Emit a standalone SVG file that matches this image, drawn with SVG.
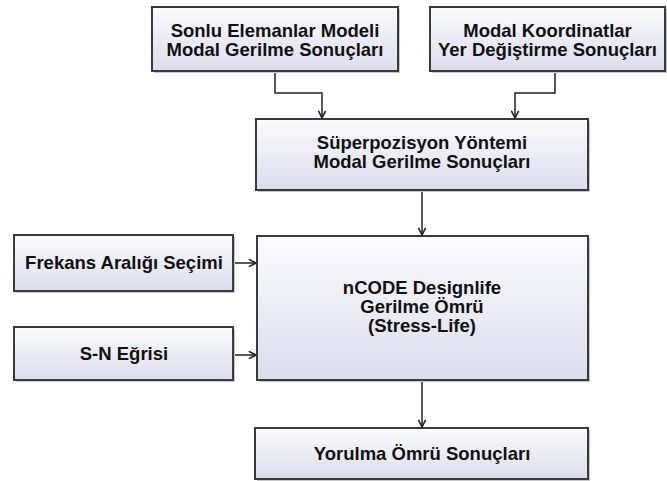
<svg xmlns="http://www.w3.org/2000/svg" width="667" height="481" viewBox="0 0 667 481">
  <style>
    .box { fill: url(#boxFill); stroke: #3a3a3a; stroke-width: 2; }
    .shadow { fill: #c8c8c8; }
    .label { font-family: "Liberation Sans", Arial, sans-serif; font-weight: bold; font-size: 18.5px; fill: #111; text-anchor: middle; }
    .wire { fill: none; stroke: #222; stroke-width: 1.5; marker-end: url(#arrow); }
  </style>
  <defs>
    <linearGradient id="boxFill" x1="0" y1="0" x2="0" y2="1">
      <stop offset="0" stop-color="#fbfbfd"/>
      <stop offset="1" stop-color="#dcdcee"/>
    </linearGradient>
    <marker id="arrow" viewBox="0 0 10 10" refX="9" refY="5" markerWidth="9" markerHeight="9" markerUnits="userSpaceOnUse" orient="auto">
      <path d="M1,1 L9,5 L1,9" fill="none" stroke="#222" stroke-width="1.8"/>
    </marker>
  </defs>
  <rect width="667" height="481" fill="#ffffff"/>

  <g id="connectors">
    <path class="wire" d="M275,71 V93 H322 V118"/>
    <path class="wire" d="M555,71 V93 H515 V118"/>
    <path class="wire" d="M422,190 V235"/>
    <path class="wire" d="M235,263 H256"/>
    <path class="wire" d="M235,355 H256"/>
    <path class="wire" d="M422,380 V427"/>
  </g>

  <g id="sonlu-elemanlar">
    <rect class="shadow" x="154" y="9" width="246" height="64"/>
    <rect class="box" x="152" y="7" width="246" height="64"/>
    <text class="label" x="275" y="37">Sonlu Elemanlar Modeli</text>
    <text class="label" x="275" y="56">Modal Gerilme Sonuçları</text>
  </g>

  <g id="modal-koordinatlar">
    <rect class="shadow" x="432" y="9" width="235" height="64"/>
    <rect class="box" x="430" y="7" width="235" height="64"/>
    <text class="label" x="547.500" y="37">Modal Koordinatlar</text>
    <text class="label" x="547.500" y="56">Yer Değiştirme Sonuçları</text>
  </g>

  <g id="superpozisyon">
    <rect class="shadow" x="258" y="121" width="332" height="71"/>
    <rect class="box" x="256" y="119" width="332" height="71"/>
    <text class="label" x="422" y="149">Süperpozisyon Yöntemi</text>
    <text class="label" x="422" y="168">Modal Gerilme Sonuçları</text>
  </g>

  <g id="frekans-araligi">
    <rect class="shadow" x="16" y="237" width="219" height="56"/>
    <rect class="box" x="14" y="235" width="219" height="56"/>
    <text class="label" x="124" y="269">Frekans Aralığı Seçimi</text>
  </g>

  <g id="sn-egrisi">
    <rect class="shadow" x="16" y="329" width="219" height="53"/>
    <rect class="box" x="14" y="327" width="219" height="53"/>
    <text class="label" x="124" y="360">S-N Eğrisi</text>
  </g>

  <g id="ncode-designlife">
    <rect class="shadow" x="259" y="238" width="331" height="144"/>
    <rect class="box" x="257" y="236" width="331" height="144"/>
    <text class="label" x="422" y="294">nCODE Designlife</text>
    <text class="label" x="422" y="313">Gerilme Ömrü</text>
    <text class="label" x="422" y="332">(Stress-Life)</text>
  </g>

  <g id="yorulma-omru">
    <rect class="shadow" x="257" y="430" width="333" height="52"/>
    <rect class="box" x="255" y="428" width="333" height="51"/>
    <text class="label" x="422" y="460">Yorulma Ömrü Sonuçları</text>
  </g>
</svg>
